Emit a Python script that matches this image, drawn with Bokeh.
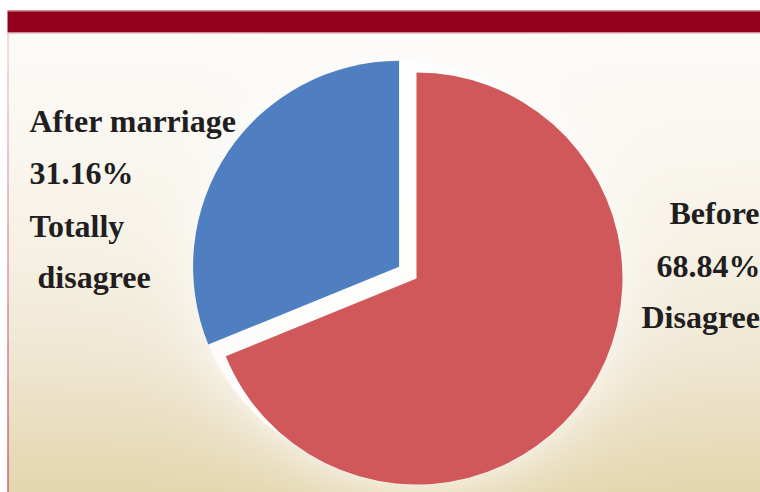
import numpy as np
from bokeh.plotting import figure
from bokeh.models import Range1d
from bokeh.core.properties import value
from bokeh.embed import file_html
from bokeh.resources import INLINE

# ---- data ----
groups = ["After marriage", "Before"]
shares = [31.16, 68.84]
answers = ["Totally disagree", "Disagree"]
colors = ["#4F7FC1", "#D0585A"]

W, H = 760, 492
FONT = "Liberation Serif"
TXT = "#221e1f"
FS = "32px"
YSHIFT = 11  # correction of baseline placement

p = figure(width=W, height=H, x_range=Range1d(0, W), y_range=Range1d(0, H),
           output_backend="svg", toolbar_location=None, min_border=0,
           x_axis_type=None, y_axis_type=None)
p.outline_line_color = None
p.background_fill_color = "white"
p.border_fill_color = "white"

# ---- pie geometry (screen y down converted to data y up) ----
cx, cy = 416.0, H - 278.0
R = 206.0
explode = 21.0
start0 = np.pi / 2
angs = [start0]
for s in shares:
    angs.append(angs[-1] + 2 * np.pi * s / 100.0)
centers = []
for k in range(len(shares)):
    mid = 0.5 * (angs[k] + angs[k + 1])
    off = explode if k == 0 else 0.0
    centers.append((cx + off * np.cos(mid), cy + off * np.sin(mid)))

# ---- background gradient image with soft glow around pie ----
x0, y0 = 8, 0
nx, ny = W - x0, H - 32
ii = np.arange(nx) + 0.5 + x0
jj = np.arange(ny) + 0.5 + y0
X, Y = np.meshgrid(ii, jj)  # data coords, y up
SY = H - Y
stops_y = [32, 150, 250, 350, 420, 492]
stops_c = [(252, 251, 248), (250, 247, 240), (246, 241, 228),
           (240, 232, 212), (234, 223, 194), (228, 214, 174)]
img = np.zeros((ny, nx, 4), dtype=np.float64)
for ch in range(3):
    img[..., ch] = np.interp(SY, stops_y, [c[ch] for c in stops_c])
d = np.minimum(np.hypot(X - centers[0][0], Y - centers[0][1]) - R,
               np.hypot(X - centers[1][0], Y - centers[1][1]) - R)
glow = np.exp(-np.maximum(d, 0) / 30.0) * 0.5
glow = np.where(d < 0, 0.95, glow)
for ch in range(3):
    img[..., ch] = img[..., ch] * (1 - glow) + 254 * glow
img[..., 3] = 255
rgba = np.ascontiguousarray(img.astype(np.uint8)).view(dtype=np.uint32).reshape(ny, nx)
p.image_rgba(image=[rgba], x=x0, y=y0, dw=nx, dh=ny)

# ---- top bar and left rule ----
p.quad(left=7, right=W, bottom=H - 32, top=H - 10, fill_color="#93001b", line_color=None)
p.segment(x0=[7], y0=[H - 32.5], x1=[W], y1=[H - 32.5], line_color="#d49aa4", line_width=1)
p.segment(x0=[7], y0=[H - 10.5], x1=[W], y1=[H - 10.5], line_color="#d49aa4", line_width=1)
nseg = 12
ys = np.linspace(H - 32, 0, nseg + 1)
c_top = np.array([236, 180, 196])
c_bot = np.array([178, 20, 48])
for k in range(nseg):
    t = k / (nseg - 1)
    c = (c_top * (1 - t) + c_bot * t).astype(int)
    p.segment(x0=[7.5], y0=[ys[k]], x1=[7.5], y1=[ys[k + 1]],
              line_color="#%02x%02x%02x" % tuple(c), line_width=1)

# ---- pie ----
for k in range(len(shares)):
    p.wedge(x=[centers[k][0]], y=[centers[k][1]], radius=R,
            start_angle=angs[k], end_angle=angs[k + 1], direction="anticlock",
            fill_color=colors[k], line_color=None)

# ---- labels ----
left_words = answers[0].split(" ")
left_lines = [groups[0], f"{shares[0]:.2f}%", left_words[0], left_words[1]]
left_x = [29, 29, 29, 37]
left_y = [131, 183, 236, 287]
p.text(x=left_x, y=[H - v + YSHIFT for v in left_y], text=left_lines,
       text_font=value(FONT), text_font_style="bold", text_font_size=FS,
       text_color=TXT, text_align="left", text_baseline="alphabetic")

right_lines = [groups[1], f"{shares[1]:.2f}%", answers[1]]
right_x = [669, 656, 641]
right_y = [223, 276, 327]
p.text(x=right_x, y=[H - v + YSHIFT for v in right_y], text=right_lines,
       text_font=value(FONT), text_font_style="bold", text_font_size=FS,
       text_color=TXT, text_align="left", text_baseline="alphabetic")

open("out.html", "w").write(file_html(p, INLINE))
